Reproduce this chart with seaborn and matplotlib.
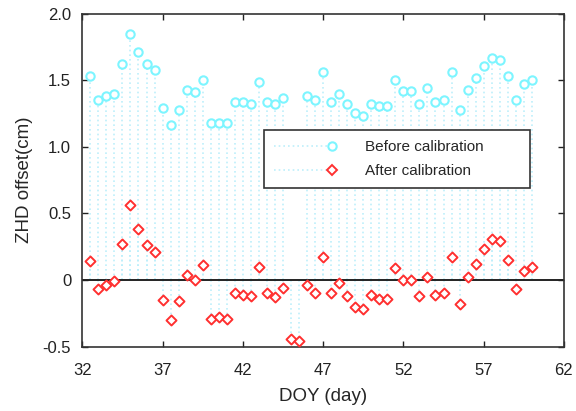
import numpy as np
import seaborn as sns
import matplotlib
matplotlib.use("Agg")
import matplotlib.pyplot as plt
from matplotlib.lines import Line2D
from matplotlib.legend_handler import HandlerLine2D

# day of year, sampled every 12 h
doy = np.arange(32.5, 60.01, 0.5)

# ZHD offset (cm) before calibration (two epochs missing)
before = [1.53, 1.35, 1.38, 1.40, 1.62, 1.85, 1.71, 1.62, 1.58, 1.29,
          1.16, 1.28, 1.43, 1.41, 1.50, 1.18, 1.18, 1.18, 1.34, 1.34,
          1.32, 1.49, 1.34, 1.32, 1.37, np.nan, np.nan, 1.38, 1.35, 1.56,
          1.34, 1.40, 1.32, 1.25, 1.23, 1.32, 1.31, 1.31, 1.50, 1.42,
          1.42, 1.32, 1.44, 1.34, 1.35, 1.56, 1.28, 1.43, 1.52, 1.61,
          1.67, 1.65, 1.53, 1.35, 1.47, 1.50]

# ZHD offset (cm) after calibration
after = [0.14, -0.07, -0.04, -0.01, 0.27, 0.56, 0.38, 0.26, 0.21, -0.15,
         -0.30, -0.16, 0.04, 0.00, 0.11, -0.29, -0.28, -0.29, -0.10, -0.11,
         -0.12, 0.10, -0.10, -0.13, -0.06, -0.44, -0.46, -0.04, -0.10, 0.17,
         -0.10, -0.02, -0.12, -0.20, -0.22, -0.11, -0.14, -0.14, 0.09, 0.00,
         0.00, -0.12, 0.02, -0.11, -0.10, 0.17, -0.18, 0.02, 0.12, 0.23,
         0.31, 0.29, 0.15, -0.07, 0.07, 0.10]

xticks = [32, 37, 42, 47, 52, 57, 62]
yticks = [-0.5, 0, 0.5, 1.0, 1.5, 2.0]
ytick_labels = ["-0.5", "0", "0.5", "1.0", "1.5", "2.0"]
labels = ["Before calibration", "After calibration"]

before = np.array(before)
after = np.array(after)

sns.set_style("ticks")
plt.rcParams["font.family"] = ["Liberation Sans", "DejaVu Sans"]

stem_color = "#bdeffb"
stem_style = (0, (1, 1.8))
cyan = "#7df5ff"
red = "#ff3030"

fig = plt.figure(figsize=(5.76, 4.11), dpi=100)
ax = fig.add_axes([0.1429, 0.1565, 0.8361, 0.8105])

ok = ~np.isnan(before)
ax.vlines(doy[ok], 0, before[ok], colors=stem_color, linestyles=[stem_style], linewidth=1.2, zorder=1)
ax.vlines(doy, 0, after, colors=stem_color, linestyles=[stem_style], linewidth=1.2, zorder=1)
ax.axhline(0, color="#222222", linewidth=1.4, zorder=2)

sns.scatterplot(x=doy[ok], y=before[ok], marker="o", s=36, facecolor="white",
                edgecolor=cyan, linewidth=1.5, ax=ax, zorder=3)
sns.scatterplot(x=doy, y=after, marker="D", s=26, facecolor="white",
                edgecolor=red, linewidth=1.4, ax=ax, zorder=3)

ax.set_xlim(32, 62)
ax.set_ylim(-0.5, 2.0)
ax.set_xticks(xticks)
ax.set_yticks(yticks, ytick_labels)
ax.tick_params(direction="in", length=4, width=1, top=True, right=True,
               labelsize=12, colors="#222222")
ax.tick_params(axis="x", pad=12)
ax.tick_params(axis="y", pad=8)
for sp in ax.spines.values():
    sp.set_color("#333333")
    sp.set_linewidth(1.2)

ax.set_xlabel("DOY (day)", fontsize=13.5, labelpad=7)
ax.set_ylabel("ZHD offset(cm)", fontsize=13.5, labelpad=7)


class RightMarkerHandler(HandlerLine2D):
    # put the marker at the right end of the dotted handle line
    def create_artists(self, legend, orig_handle, xdescent, ydescent,
                       width, height, fontsize, trans):
        artists = super().create_artists(legend, orig_handle, xdescent, ydescent,
                                         width, height, fontsize, trans)
        line = artists[0]
        line.set_markevery([len(line.get_xdata()) - 1])
        return artists


h_before = Line2D([], [], color=stem_color, linestyle=stem_style, linewidth=1.2,
                  marker="o", markersize=6, markerfacecolor="white",
                  markeredgecolor=cyan, markeredgewidth=1.5)
h_after = Line2D([], [], color=stem_color, linestyle=stem_style, linewidth=1.2,
                 marker="D", markersize=5, markerfacecolor="white",
                 markeredgecolor=red, markeredgewidth=1.4)
leg = ax.legend([h_before, h_after], labels, loc="upper left",
                bbox_to_anchor=(0.377, 0.479, 0.552, 0.171), mode="expand",
                borderaxespad=0, fancybox=False, framealpha=1, fontsize=11,
                handlelength=3.8, handletextpad=2.2, labelspacing=0.65,
                borderpad=0.65, numpoints=1,
                handler_map={Line2D: RightMarkerHandler()})
leg.get_frame().set_edgecolor("#333333")
leg.get_frame().set_linewidth(1.2)

fig.savefig("out.png", dpi=100)
